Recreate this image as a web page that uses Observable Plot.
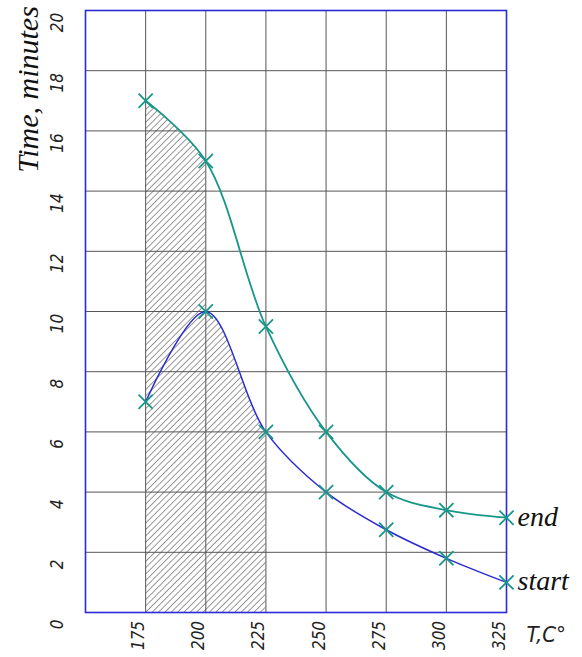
<!DOCTYPE html>
<html>
<head>
<meta charset="utf-8">
<script src="https://cdn.jsdelivr.net/npm/d3@7"></script>
<script src="https://cdn.jsdelivr.net/npm/@observablehq/plot@0.6"></script>
<style>
  body { margin: 0; background: #fff; }
  #chart svg { display: block; background: #fff; }
</style>
</head>
<body>
<div id="chart"></div>
<script>
// Data
const temperatures = [175, 200, 225, 250, 275, 300, 325];
const endTimes   = [17, 15, 9.5, 6.0, 4.0, 3.4, 3.15];
const startTimes = [7, 10, 6.0, 4.0, 2.75, 1.8, 1.0];
const xTicks = [175, 200, 225, 250, 275, 300, 325];
const xGrid = [175, 200, 225, 250, 275, 300];
const yTicks = [0, 2, 4, 6, 8, 10, 12, 14, 16, 18, 20];
const yGrid = [2, 4, 6, 8, 10, 12, 14, 16, 18];
const seriesLabels = ["end", "start"];
const yTitle = "Time, minutes";
const xTitle = "T,C°";
const hatchEnd = [175, 200];
const hatchStart = [200, 225];

const endData = temperatures.map((t, i) => ({t, v: endTimes[i]}));
const startData = temperatures.map((t, i) => ({t, v: startTimes[i]}));

const teal = "#17978a";
const blue = "#2b2bd2";
const frameBlue = "#2a2ad8";
const tickFont = "'Liberation Sans Narrow', 'DejaVu Sans Condensed', sans-serif";
const serif = "'Liberation Serif', 'DejaVu Serif', serif";

const plot = Plot.plot({
  width: 582,
  height: 657,
  marginLeft: 85,
  marginRight: 76,
  marginTop: 10,
  marginBottom: 45,
  x: {domain: [150, 325], axis: null},
  y: {domain: [0, 20], axis: null},
  marks: [
    Plot.areaY(endData, {x: "t", y: "v", curve: "catmull-rom", fill: "url(#hatch)"}),
    Plot.areaY(startData, {x: "t", y: "v", curve: "catmull-rom", fill: "url(#hatch)"}),
    Plot.ruleX(xGrid, {stroke: "#555", strokeWidth: 1}),
    Plot.ruleY(yGrid, {stroke: "#555", strokeWidth: 1}),
    Plot.frame({stroke: frameBlue, strokeWidth: 1.6}),
    Plot.line(endData, {x: "t", y: "v", curve: "catmull-rom", stroke: teal, strokeWidth: 1.8}),
    Plot.line(startData, {x: "t", y: "v", curve: "catmull-rom", stroke: blue, strokeWidth: 1.5}),
    Plot.dot(endData, {x: "t", y: "v", symbol: "times", r: 6.5, stroke: teal, strokeWidth: 1.8}),
    Plot.dot(startData, {x: "t", y: "v", symbol: "times", r: 6.5, stroke: teal, strokeWidth: 1.8}),
    // end / start labels
    Plot.text([endData[endData.length - 1], startData[startData.length - 1]], {
      x: "t", y: "v", text: (d, i) => seriesLabels[i], textAnchor: "start", dx: 11, dy: -1,
      fontSize: 28, fontStyle: "italic", fontFamily: serif, fill: "#111"
    }),
    // x tick labels
    Plot.text(xTicks, {
      x: d => d, frameAnchor: "bottom", text: d => String(d), rotate: -90,
      dx: -7, dy: 23, fontSize: 17, fontStyle: "italic", fontFamily: tickFont, fill: "#222",
      textAnchor: "middle", lineAnchor: "middle"
    }),
    // y tick labels
    Plot.text(yTicks, {
      y: d => d, frameAnchor: "left", text: d => String(d), rotate: -90,
      dx: -28, dy: 12, fontSize: 17, fontStyle: "italic", fontFamily: tickFont, fill: "#222",
      textAnchor: "middle", lineAnchor: "middle"
    }),
    // y title
    Plot.text([yTitle], {
      frameAnchor: "top-left", text: d => d, rotate: -90, dx: -57, dy: 79,
      fontSize: 30, fontStyle: "italic", fontFamily: serif, fill: "#111",
      textAnchor: "middle", lineAnchor: "middle"
    }),
    // x title
    Plot.text([xTitle], {
      frameAnchor: "bottom-right", text: d => d, dx: 20, dy: 22,
      fontSize: 22, fontStyle: "italic", fontFamily: tickFont, fill: "#222",
      textAnchor: "start", lineAnchor: "middle"
    })
  ]
});

// hatch pattern + clip paths built from the plot's own x scale
const ns = "http://www.w3.org/2000/svg";
const xs = plot.scale("x");
const defs = document.createElementNS(ns, "defs");
defs.innerHTML = `
  <pattern id="hatch" patternUnits="userSpaceOnUse" width="4.5" height="4.5" patternTransform="rotate(45)">
    <line x1="0" y1="0" x2="0" y2="4.5" stroke="#444" stroke-width="1.1"/>
  </pattern>
  <clipPath id="clipEnd"><rect x="${xs.apply(hatchEnd[0])}" y="0" width="${xs.apply(hatchEnd[1]) - xs.apply(hatchEnd[0])}" height="657"/></clipPath>
  <clipPath id="clipStart"><rect x="${xs.apply(hatchStart[0])}" y="0" width="${xs.apply(hatchStart[1]) - xs.apply(hatchStart[0])}" height="657"/></clipPath>
`;
plot.insertBefore(defs, plot.firstChild);
const areas = plot.querySelectorAll('g[aria-label="area"]');
if (areas[0]) areas[0].setAttribute("clip-path", "url(#clipEnd)");
if (areas[1]) areas[1].setAttribute("clip-path", "url(#clipStart)");

document.getElementById("chart").appendChild(plot);
</script>
</body>
</html>
